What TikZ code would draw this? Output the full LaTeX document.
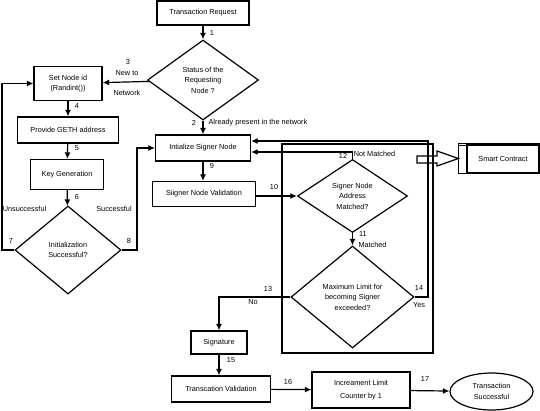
\documentclass[tikz,border=0pt]{standalone}
\usepackage{fontspec}
\setmainfont{Liberation Sans}
\usetikzlibrary{arrows.meta,shapes.geometric,positioning}

\begin{document}
\begin{tikzpicture}[
    x=1pt,y=-1pt,
    font=\fontsize{7.3}{10.5}\selectfont,
    >={Latex[length=6.5pt,width=6pt]},
    line width=1.2pt,
    flow/.style={->,draw=black},
    proc/.style={draw,rectangle,inner sep=1pt,align=center},
    decision/.style={draw,diamond,inner sep=0pt,align=center},
    tag/.style={inner sep=0pt}
  ]
    \useasboundingbox (0,0) rectangle (540,410);

    % main column
    \node[proc,minimum width=92pt,minimum height=24pt] (req) at (203,13) {Transaction Request};
    \node[decision,minimum width=111pt,minimum height=80pt] (status) at (203,80)
      {Status of the\\Requesting\\Node ?};
    \node[proc,minimum width=95pt,minimum height=26pt] (signer) at (203,148) {Intialize Signer Node};
    \node[proc,minimum width=103pt,minimum height=25pt] (valid) at (204,194) {Siigner Node Validation};

    % new node branch
    \node[proc,minimum width=68pt,minimum height=34pt] (setid) at (68,83.5) {Set Node id\\(Randint())};
    \node[proc,minimum width=101pt,minimum height=26pt] (geth) at (68,130) {Provide GETH address};
    \node[proc,minimum width=73pt,minimum height=30pt] (keygen) at (67,174.5) {Key Generation};
    \node[decision,minimum width=106pt,minimum height=88pt] (init) at (68,250)
      {Initialization\\Successful?};

    % signer checks
    \node[draw,minimum width=151pt,minimum height=209pt,inner sep=0pt] (frame) at (357.5,248.5) {};
    \node[decision,minimum width=110pt,minimum height=73pt] (match) at (352.5,196)
      {Signer Node\\Address\\Matched?};
    \node[decision,minimum width=123pt,minimum height=102pt] (limit) at (352.5,297)
      {Maximum Limit for\\becoming Signer\\exceeded?};

    \node[proc,minimum width=72pt,minimum height=29pt] (contract) at (503,158.5) {Smart Contract};
    \draw ([xshift=-8pt]contract.north west) rectangle (contract.south east);
    \draw ([xshift=-8pt,yshift=-2pt]contract.north west) -- ([yshift=-2pt]contract.north east);
    \draw (417,156) -- (437,156) -- (437,151) -- ([xshift=-8pt]contract.west)
      -- (437,166) -- (437,163) -- (417,163) -- cycle;

    % lower part
    \node[proc,minimum width=56pt,minimum height=23pt] (sign) at (219,342.5) {Signature};
    \node[proc,minimum width=99pt,minimum height=26pt] (tval) at (221,389) {Transcation Validation};
    \node[proc,minimum width=98pt,minimum height=36pt] (incr) at (361,390)
      {Increament Limit\\[2pt]Counter by 1};
    \node[draw,ellipse,minimum width=83pt,minimum height=37pt,inner sep=0pt,align=center] (done)
      at (491.5,391.5) {Transaction\\Successful};

    % connectors
    \draw[flow] (req) -- (status);
    \draw[flow] (status) -- (signer);
    \draw[flow] (status) -- (setid);
    \draw[flow] (setid) -- (geth);
    \draw[flow] (geth) -- (keygen);
    \draw[flow] (keygen) -- (init);
    \draw[flow] (init.west) -- (2,250) |- (setid.west);
    \draw[flow] (init.east) -- (137,250) |- (signer.west);
    \draw[flow] (signer.south) -- (signer.south |- valid.north);
    \draw[flow] (valid.east |- match.west) -- (match.west);
    \draw[flow] (match) -- (limit);
    \draw[flow] (match.north) |- ([yshift=-4pt]signer.east);
    \draw[flow] (limit.east) -- (428,297) |- ([yshift=7pt]signer.east);
    \draw[flow] (limit.west) -| (sign.north);
    \draw[flow] (sign.south) -- (sign.south |- tval.north);
    \draw[flow] (tval) -- (incr);
    \draw[flow] (incr) -- (done);

    % edge labels
    \node[tag] (l1) at (212,33) {1};
    \node[tag] (l2) at (194,123) {2};
    \node[tag,anchor=west] (lpres) at (208,123) {Already present in the network};
    \node[tag] (l3) at (128,62) {3};
    \node[tag] (lnew) at (127,73) {New to};
    \node[tag] (lnet) at (127,93) {Network};
    \node[tag] (l4) at (77,106) {4};
    \node[tag] (l5) at (77,148) {5};
    \node[tag] (l6) at (77,197) {6};
    \node[tag] (l7) at (11,241) {7};
    \node[tag] (lunsucc) at (24.5,209) {Unsuccessful};
    \node[tag] (l8) at (129,241) {8};
    \node[tag] (lsucc) at (114,209) {Successful};
    \node[tag] (l9) at (212,166) {9};
    \node[tag] (l10) at (274,187) {10};
    \node[tag] (l11) at (363,234) {11};
    \node[tag] (lmatch) at (372.5,245) {Matched};
    \node[tag] (l12) at (343,156) {12};
    \node[tag] (lnot) at (374.5,154) {Not Matched};
    \node[tag] (l13) at (268,289) {13};
    \node[tag] (lno) at (253,302) {No};
    \node[tag] (l14) at (419,288) {14};
    \node[tag] (lyes) at (419,305) {Yes};
    \node[tag] (l15) at (231,360) {15};
    \node[tag] (l16) at (288,382) {16};
    \node[tag] (l17) at (425,379) {17};
\end{tikzpicture}
\end{document}
